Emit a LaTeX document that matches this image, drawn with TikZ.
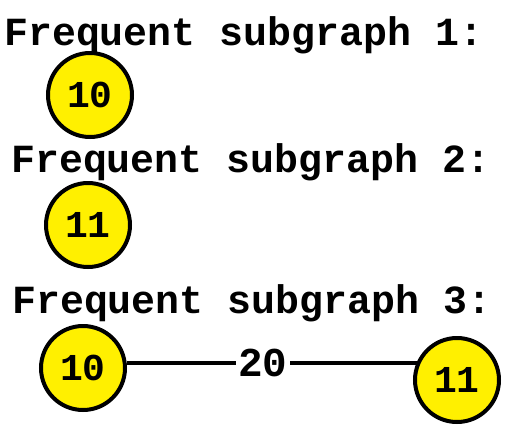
\documentclass[tikz,border=0pt]{standalone}
\usepackage{fontspec}
\setmonofont{Liberation Mono}
\usetikzlibrary{positioning}
\definecolor{vertexyellow}{RGB}{255,240,0}
\tikzset{
  title/.style={font=\ttfamily\bfseries\fontsize{39.9}{41}\selectfont, anchor=base west, inner sep=0pt},
  vertex/.style={circle, draw=black, line width=4pt, fill=vertexyellow, minimum size=84pt, inner sep=0pt, font=\ttfamily\bfseries\fontsize{38}{40}\selectfont},
  edge/.style={line width=4pt},
  weight/.style={fill=white, inner sep=2pt, font=\ttfamily\bfseries\fontsize{41}{43}\selectfont}
}
\begin{document}
\begin{tikzpicture}[x=1pt,y=-1pt]
\useasboundingbox (0,0) rectangle (515,424);
\node[title] (t1) at (4,45) {Frequent subgraph 1:};
\node[vertex] (a) at (90,95) {10};
\node[title] (t2) at (11,172) {Frequent subgraph 2:};
\node[vertex] (b) at (88,225) {11};
\node[title] (t3) at (12,313) {Frequent subgraph 3:};
\node[vertex] (c) at (83,368) {10};
\node[vertex] (d) at (457,380) {11};
\draw[edge] (c.6) -- node[weight, pos=0.47] (w) {20} (c.6 -| d.157);
\end{tikzpicture}
\end{document}
